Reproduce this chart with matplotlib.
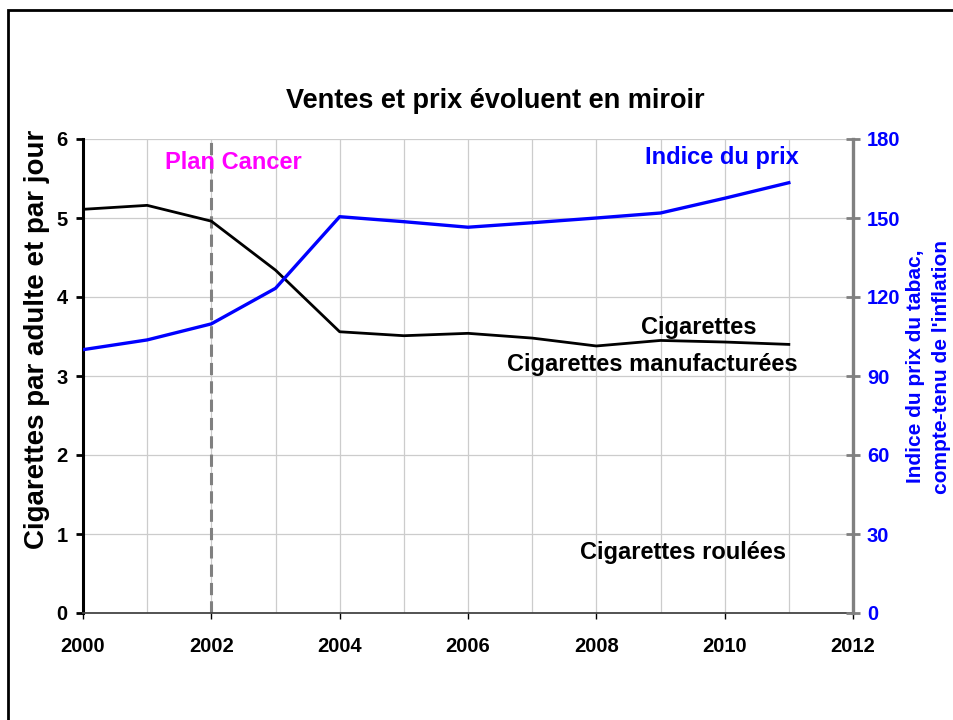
import matplotlib
matplotlib.use("Agg")
import matplotlib.pyplot as plt
from matplotlib.patches import Rectangle

# ── Données ──────────────────────────────────────────────────────────────────
annees = [2000, 2001, 2002, 2003, 2004, 2005, 2006, 2007, 2008, 2009, 2010, 2011]
cigarettes = [5.11, 5.16, 4.96, 4.34, 3.56, 3.51, 3.54, 3.48, 3.38, 3.45, 3.43, 3.40]
indice_prix = [100.0, 103.7, 109.8, 123.3, 150.5, 148.6, 146.5, 148.2, 150.0, 151.9, 157.5, 163.4]

x_ticks = [2000, 2002, 2004, 2006, 2008, 2010, 2012]
y_ticks = [0, 1, 2, 3, 4, 5, 6]
y2_ticks = [0, 30, 60, 90, 120, 150, 180]

plt.rcParams['font.family'] = ['Liberation Sans', 'DejaVu Sans']
plt.rcParams['font.weight'] = 'bold'

BLEU = '#0000FF'
GRIS = '#808080'

fig = plt.figure(figsize=(9.54, 7.2), dpi=100)
ax = fig.add_axes([83 / 954, 1 - 613 / 720, 770 / 954, 474 / 720])
ax2 = ax.twinx()

# grille
for a in range(2001, 2012):
    ax.axvline(a, color='#cccccc', lw=0.9, zorder=0)
for v in y_ticks[1:]:
    ax.axhline(v, color='#cccccc', lw=0.9, zorder=0)

# Plan Cancer
ax.axvline(2002, color=GRIS, lw=2.2, ls=(0, (4, 2)), zorder=1)

ax.plot(annees, cigarettes, color='black', lw=2.0, zorder=3)
ax2.plot(annees, indice_prix, color=BLEU, lw=2.4, zorder=3)

ax.set_xlim(2000, 2012)
ax.set_ylim(0, 6)
ax2.set_ylim(0, 180)
ax.set_xticks(x_ticks)
ax.set_yticks(y_ticks)
ax2.set_yticks(y2_ticks)

for s in ['top', 'right']:
    ax.spines[s].set_visible(False)
ax2.spines['top'].set_visible(False)
ax2.spines['left'].set_visible(False)
ax2.spines['bottom'].set_visible(False)
ax.spines['left'].set_linewidth(2.2)
ax.spines['left'].set_color('black')
ax.spines['bottom'].set_linewidth(1.3)
ax.spines['bottom'].set_color('#444444')
ax2.spines['right'].set_linewidth(2.4)
ax2.spines['right'].set_color(GRIS)

ax.tick_params(axis='y', direction='out', length=5, width=2, pad=6, labelsize=14.5, colors='black')
ax.tick_params(axis='x', direction='out', length=4, width=1, pad=13, labelsize=14.5, colors='black')
ax2.tick_params(axis='y', direction='inout', length=10, width=2, pad=5, labelsize=14.5,
                color=GRIS, labelcolor=BLEU)
for lab in ax.get_xticklabels() + ax.get_yticklabels() + ax2.get_yticklabels():
    lab.set_fontweight('bold')

ax.set_ylabel("Cigarettes par adulte et par jour", fontsize=20, fontweight='bold')
ax.yaxis.set_label_coords(-0.043, 0.578)
ax2.set_ylabel("Indice du prix du tabac,\ncompte-tenu de l'inflation", fontsize=15,
               fontweight='bold', color=BLEU, linespacing=1.45)
ax2.yaxis.set_label_coords(1.069, 0.52)

# annotations
ax.text(2002.34, 5.70, "Plan Cancer", color='#FF00FF', fontsize=17, fontweight='bold',
        ha='center', va='center')
ax.text(2009.96, 5.77, "Indice du prix", color=BLEU, fontsize=17, fontweight='bold',
        ha='center', va='center')
ax.text(2009.6, 3.62, "Cigarettes", color='black', fontsize=17, fontweight='bold',
        ha='center', va='center')
ax.text(2008.87, 3.14, "Cigarettes manufacturées", color='black', fontsize=17,
        fontweight='bold', ha='center', va='center')
ax.text(2009.35, 0.76, "Cigarettes roulées", color='black', fontsize=17,
        fontweight='bold', ha='center', va='center')

fig.text(495 / 954, 1 - 101 / 720, "Ventes et prix évoluent en miroir", fontsize=19.5,
         fontweight='bold', ha='center', va='center')

# cadre
fig.add_artist(Rectangle((8 / 954, -0.1), 1.2, 1.1 - 10 / 720, fill=False, lw=2,
                         edgecolor='black', transform=fig.transFigure, clip_on=False))

fig.savefig("out.png", dpi=100)
